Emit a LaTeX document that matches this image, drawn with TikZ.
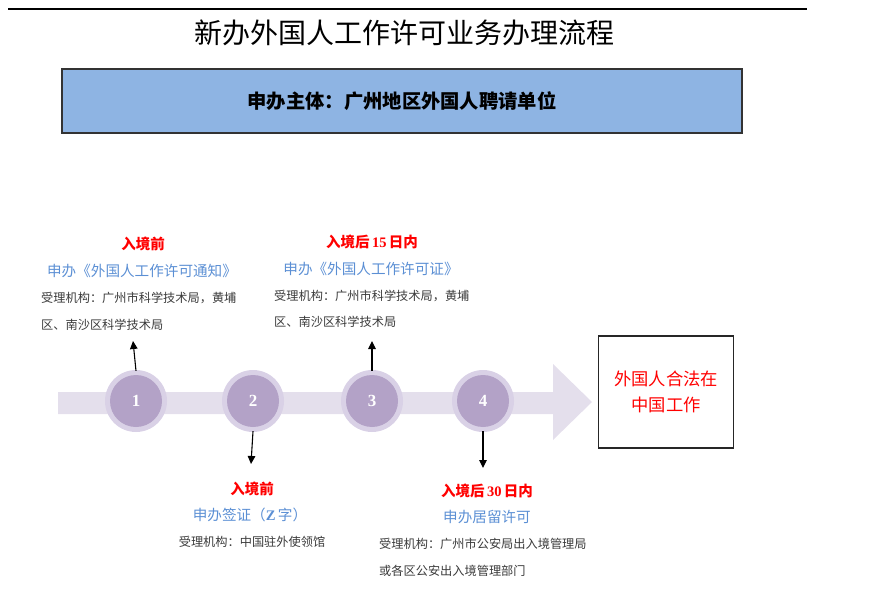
\documentclass[tikz,border=0pt]{standalone}
\usepackage{fontspec}
\setmainfont{Noto Sans CJK SC}
\newfontfamily\numfont{Liberation Serif}
\usetikzlibrary{arrows.meta}
\definecolor{boxblue}{HTML}{8EB4E3}
\definecolor{lblue}{HTML}{5B8FD4}
\definecolor{shaft}{HTML}{E4DFEC}
\definecolor{ring}{HTML}{D9D1E6}
\definecolor{disc}{HTML}{B3A2C7}
\definecolor{txtgray}{HTML}{3A3A3A}
\tikzset{
  redlab/.style={text=red, font=\fontsize{14.5}{16}\selectfont\bfseries, inner sep=0pt},
  bluelab/.style={text=lblue, font=\fontsize{14.6}{16}\selectfont, inner sep=0pt},
  graylab/.style={text=txtgray, font=\fontsize{12.2}{13}\selectfont, inner sep=0pt},
  ringnode/.style={circle, fill=ring, minimum size=62pt, inner sep=0pt},
  discnode/.style={circle, fill=disc, minimum size=52pt, inner sep=0pt, text=white, font=\numfont\fontsize{17}{19}\selectfont\bfseries},
  pointer/.style={-{Triangle[length=8pt,width=7.5pt]}, line width=1.1pt, black}
}
\begin{document}
\begin{tikzpicture}[x=1pt,y=-1pt]
\useasboundingbox (0,0) rectangle (870,604);
% top rule
\draw[line width=1.8pt] (8,9) -- (807,9);
% title
\node[inner sep=0pt, font=\fontsize{28}{30}\selectfont] (title) at (404,33) {新办外国人工作许可业务办理流程};
% subject box
\node[draw=black!80, line width=1.2pt, fill=boxblue, minimum width=680pt, minimum height=64pt, inner sep=0pt, font=\fontsize{19.3}{21}\selectfont\bfseries] (subj) at (402,101) {申办主体：广州地区外国人聘请单位};
% big arrow
\fill[shaft] (58,392) -- (553,392) -- (553,364) -- (592,402) -- (553,440) -- (553,414) -- (58,414) -- cycle;
% circles
\foreach \n/\x in {1/136,2/253,3/372,4/483}{
  \node[ringnode] (r\n) at (\x,401) {};
  \node[discnode] (c\n) at (\x,401) {\n};
}
% end box
\node[draw=black!85, line width=1.5pt, minimum width=135pt, minimum height=112pt, inner sep=0pt, align=center, text=red, font=\fontsize{17.3}{26}\selectfont] (goal) at (666,392) {外国人合法在\\中国工作};
% step 1 texts
\node[redlab] (t1a) at (143,244) {入境前};
\node[bluelab] (t1b) at (142,271) {申办《外国人工作许可通知》};
\node[graylab, anchor=west] (t1c) at (41,298) {受理机构：广州市科学技术局，黄埔};
\node[graylab, anchor=west] (t1d) at (41,325) {区、南沙区科学技术局};
% step 3 texts
\node[redlab] (t3a) at (372,242) {入境后\,{\numfont\bfseries 15}\,日内};
\node[bluelab] (t3b) at (371,269) {申办《外国人工作许可证》};
\node[graylab, anchor=west] (t3c) at (274,296) {受理机构：广州市科学技术局，黄埔};
\node[graylab, anchor=west] (t3d) at (274,322) {区、南沙区科学技术局};
% step 2 texts
\node[redlab] (t2a) at (252,489) {入境前};
\node[bluelab] (t2b) at (250,515) {申办签证（{\numfont\bfseries Z}\,字）};
\node[graylab] (t2c) at (252,542) {受理机构：中国驻外使领馆};
% step 4 texts
\node[redlab] (t4a) at (487,491) {入境后\,{\numfont\bfseries 30}\,日内};
\node[bluelab] (t4b) at (487,517) {申办居留许可};
\node[graylab, anchor=west] (t4c) at (379,544) {受理机构：广州市公安局出入境管理局};
\node[graylab, anchor=west] (t4d) at (379,571) {或各区公安出入境管理部门};
% pointers
\coordinate (p1) at (133,341);
\coordinate (p3) at (372,341);
\coordinate (p2) at (251,464);
\coordinate (p4) at (483,468);
\draw[pointer] ([yshift=-1pt]r1.north) -- (p1);
\draw[pointer] ([yshift=-1pt]r3.north) -- (p3);
\draw[pointer] ([yshift=1pt]r2.south) -- (p2);
\draw[pointer] ([yshift=1pt]r4.south) -- (p4);
\end{tikzpicture}
\end{document}
